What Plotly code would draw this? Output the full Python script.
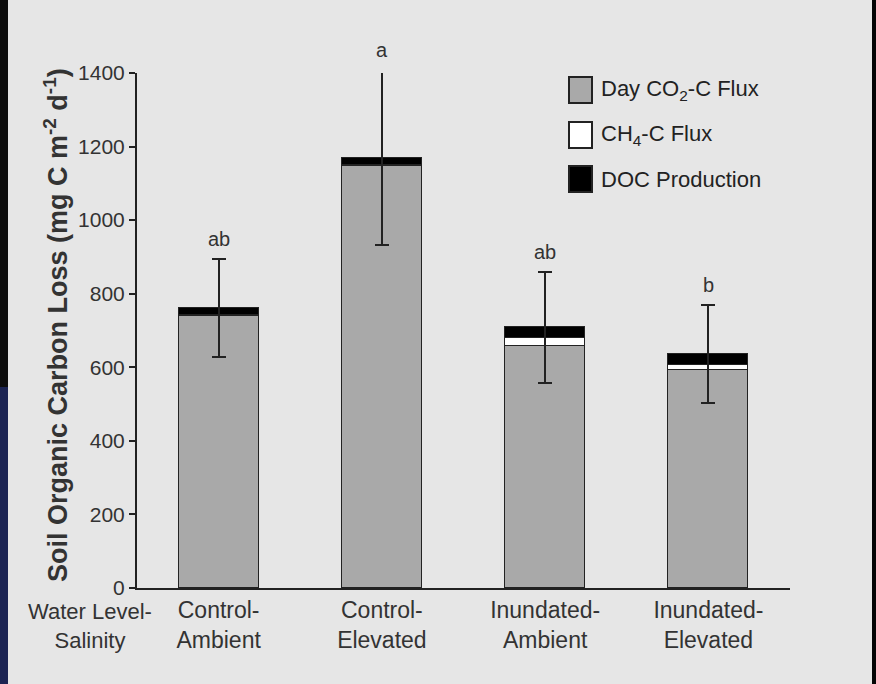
import plotly.graph_objects as go

# ---- data ----
categories = ["Control-<br>Ambient", "Control-<br>Elevated", "Inundated-<br>Ambient", "Inundated-<br>Elevated"]
co2_flux = [740, 1147, 657, 593]      # Day CO2-C Flux
ch4_flux = [2, 2, 23, 13]             # CH4-C Flux
doc_prod = [20, 21, 29, 30]           # DOC Production
err_sd = [133, 238, 151, 132]         # error bar (+/-) on total
letters = ["ab", "a", "ab", "b"]
y_ticks = [0, 200, 400, 600, 800, 1000, 1200, 1400]
y_max = 1400

FONT = "Liberation Sans, Arial, sans-serif"
TXT = "#333333"
EDGE = "#222222"

xpos = list(range(len(categories)))
totals = [a + b + c for a, b, c in zip(co2_flux, ch4_flux, doc_prod)]

fig = go.Figure()
fig.add_trace(go.Bar(x=xpos, y=co2_flux, name="Day CO<sub>2</sub>-C Flux", width=0.49,
                     marker=dict(color="#a9a9a9", line=dict(color=EDGE, width=1.5))))
fig.add_trace(go.Bar(x=xpos, y=ch4_flux, name="CH<sub>4</sub>-C Flux", width=0.49,
                     marker=dict(color="#ffffff", line=dict(color=EDGE, width=1.5))))
fig.add_trace(go.Bar(x=xpos, y=doc_prod, name="DOC Production", width=0.49, cliponaxis=False,
                     marker=dict(color="#000000", line=dict(color=EDGE, width=1.5)),
                     error_y=dict(type="data", array=err_sd, visible=True,
                                  color=EDGE, thickness=2, width=7)))

# significance letters above error bars
for xi, tot, sd, lt in zip(xpos, totals, err_sd, letters):
    fig.add_annotation(x=xi, xref="x", yref="paper", y=(tot + sd) / y_max, text=lt,
                       showarrow=False, yanchor="bottom", yshift=7,
                       font=dict(family=FONT, size=20, color=TXT))

# x-axis row label
fig.add_annotation(x=(90 - 137) / 653, y=0, xref="paper", yref="paper",
                   text="Water Level-<br>Salinity", xanchor="center",
                   showarrow=False, yanchor="top", yshift=-9,
                   font=dict(family=FONT, size=22, color=TXT))

# y-axis title
fig.add_annotation(xref="paper", yref="paper", x=(56 - 137) / 653, y=(588 - 325) / 515,
                   text="Soil Organic Carbon Loss (mg C m<sup>-2</sup> d<sup>-1</sup>)",
                   textangle=-90, showarrow=False, xanchor="center", yanchor="middle",
                   font=dict(family=FONT, size=27, color=TXT, weight="bold"))

# custom legend (boxes + labels)
legend_items = [("Day CO<sub>2</sub>-C Flux", "#a9a9a9"),
                ("CH<sub>4</sub>-C Flux", "#ffffff"),
                ("DOC Production", "#000000")]
row_centers = [90, 135, 179]
shapes = []
for (lab, col), cy in zip(legend_items, row_centers):
    shapes.append(dict(type="rect", xref="paper", yref="paper",
                       x0=(569 - 137) / 653, x1=(592 - 137) / 653,
                       y0=(588 - (cy + 13)) / 515, y1=(588 - (cy - 13)) / 515,
                       fillcolor=col, line=dict(color=EDGE, width=2)))
    fig.add_annotation(xref="paper", yref="paper", x=(599 - 137) / 653, y=(588 - cy) / 515,
                       text=lab, showarrow=False, xanchor="left", yanchor="middle",
                       font=dict(family=FONT, size=22, color="#222222"))

# dark frame edges of the slide photo
shapes += [
    dict(type="rect", xref="paper", yref="paper", layer="below",
         x0=-137 / 653, x1=(8 - 137) / 653, y0=(588 - 387) / 515, y1=588 / 515,
         fillcolor="#0d0d0d", line=dict(width=0)),
    dict(type="rect", xref="paper", yref="paper", layer="below",
         x0=-137 / 653, x1=(8 - 137) / 653, y0=(588 - 684) / 515, y1=(588 - 387) / 515,
         fillcolor="#1c2453", line=dict(width=0)),
    dict(type="rect", xref="paper", yref="paper", layer="below",
         x0=(872 - 137) / 653, x1=739 / 653, y0=(588 - 684) / 515, y1=588 / 515,
         fillcolor="#050505", line=dict(width=0)),
]

fig.update_layout(
    width=876, height=684,
    margin=dict(l=137, r=86, t=73, b=96, pad=0),
    paper_bgcolor="#e6e6e6", plot_bgcolor="rgba(0,0,0,0)",
    barmode="stack", bargap=0, showlegend=False,
    shapes=shapes,
    xaxis=dict(range=[-0.5, 3.5], tickmode="array", tickvals=xpos, ticktext=categories,
               showline=True, linecolor=EDGE, linewidth=2, ticks="", showgrid=False,
               zeroline=False, tickfont=dict(family=FONT, size=23, color=TXT)),
    yaxis=dict(range=[0, y_max], tickmode="array", tickvals=y_ticks,
               showline=True, linecolor=EDGE, linewidth=2, ticks="outside", ticklen=6,
               tickwidth=2, tickcolor=EDGE, showgrid=False, zeroline=False,
               tickfont=dict(family=FONT, size=21, color=TXT)),
)

fig.write_html("out.html")
